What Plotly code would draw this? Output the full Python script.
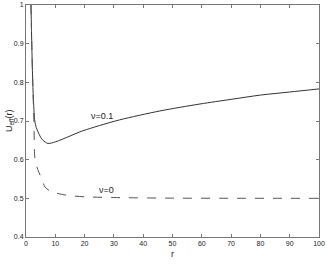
import plotly.graph_objects as go

# nu = 0.1 (solid)
r_nu01 = [1.7, 2.0, 2.3, 2.6, 3.0, 3.5, 4.1, 5.0, 5.8, 7.5, 10, 15, 18.4, 25, 32, 45.7, 59.4, 70, 80, 90, 100]
u_nu01 = [1.0, 0.89, 0.80, 0.745, 0.70, 0.683, 0.672, 0.658, 0.650, 0.642, 0.646, 0.661, 0.672, 0.688,
          0.703, 0.726, 0.744, 0.756, 0.767, 0.775, 0.783]

# nu = 0 (dashed)
r_nu0 = [1.7, 2.0, 2.3, 2.7, 3.1, 4.0, 5.4, 6.5, 8, 10, 15, 20, 30, 50, 70, 100]
u_nu0 = [1.0, 0.89, 0.80, 0.70, 0.60, 0.575, 0.55, 0.529, 0.52, 0.514, 0.507, 0.504, 0.502, 0.5005,
         0.5002, 0.5]

x_ticks = [0, 10, 20, 30, 40, 50, 60, 70, 80, 90, 100]
y_ticks = [0.4, 0.5, 0.6, 0.7, 0.8, 0.9, 1.0]
y_ticktext = ['0.4', '0.5', '0.6', '0.7', '0.8', '0.9', '1']

FONT = 'Liberation Sans, Arial'

fig = go.Figure()
fig.add_scatter(x=r_nu01, y=u_nu01, mode='lines', line=dict(color='#333333', width=1, shape='spline', smoothing=0.8),
                showlegend=False)
fig.add_scatter(x=r_nu0, y=u_nu0, mode='lines',
                line=dict(color='#555555', width=1, dash='dash', shape='spline', smoothing=0.8),
                showlegend=False)

axis_common = dict(showline=True, linecolor='#777777', linewidth=1, mirror='ticks', ticks='inside',
                   ticklen=3, tickcolor='#777777', showgrid=False, zeroline=False, automargin=False,
                   tickfont=dict(family=FONT, size=7, color='#222222'))
fig.update_xaxes(range=[0, 100], tickvals=x_ticks, **axis_common)
fig.update_yaxes(range=[0.4, 1.0], tickvals=y_ticks, ticktext=y_ticktext, **axis_common)

fig.add_annotation(x=26, y=0.714, text='ν=0.1', showarrow=False, xanchor='center', yanchor='middle',
                   font=dict(family=FONT, size=9, color='#222222'))
fig.add_annotation(x=27.6, y=0.522, text='ν=0', showarrow=False, xanchor='center', yanchor='middle',
                   font=dict(family=FONT, size=9, color='#222222'))
fig.add_annotation(x=0.5, y=0, xref='paper', yref='paper', yshift=-10, text='r', showarrow=False,
                   yanchor='top', font=dict(family=FONT, size=9, color='#222222'))
fig.add_annotation(x=0, y=0.5, xref='paper', yref='paper', xshift=-17, text='U<sub>eff</sub>(r)',
                   showarrow=False, textangle=-90, xanchor='center',
                   font=dict(family=FONT, size=9, color='#222222'))

fig.update_layout(width=327, height=264, margin=dict(l=26, r=8, t=5, b=27),
                  plot_bgcolor='white', paper_bgcolor='white')
fig.write_html("out.html", config=dict(displayModeBar=False),
               post_script="document.body.style.margin='0';")
